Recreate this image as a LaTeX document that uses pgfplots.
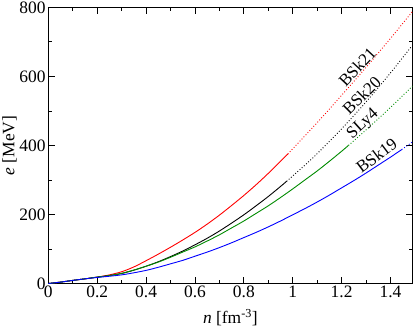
\documentclass[border=0pt]{standalone}
\usepackage{fontspec}
\setmainfont{Liberation Serif}
\usepackage{pgfplots}
\pgfplotsset{compat=1.18}
\definecolor{xgreen}{RGB}{0,139,0}
\begin{document}
\begin{tikzpicture}
\fontsize{17}{19}\selectfont
\begin{axis}[
  scale only axis,
  width=364.2bp, height=276.2bp,
  xmin=0, xmax=1.49, ymin=0, ymax=800,
  xtick={0,0.2,...,1.4}, ytick={0,200,...,800},
  minor x tick num=1, minor y tick num=1,
  tick align=inside, tick pos=both,
  major tick length=6.5bp, minor tick length=3.5bp,
  axis line style={line width=0.8pt},
  every tick/.style={black, line width=0.7pt},
  /pgf/number format/assume math mode=true,
  ticklabel style={font=\fontsize{17.5}{19}\selectfont},
  xticklabel style={inner sep=2bp},
  yticklabel style={inner sep=2.5bp},
  every axis y label/.style={at={(axis description cs:-0.1065,0.5)},rotate=90,anchor=center,inner sep=0pt},
  every axis x label/.style={at={(axis description cs:0.5,-0.1445)},anchor=base,inner sep=0pt},
  xlabel={\textit{n} [fm\textsuperscript{-3}]},
  ylabel={\textit{e} [MeV]},
  label style={font=\fontsize{17.5}{19}\selectfont},
  clip=true,
]
% BSk21 (red)
\addplot[red, line width=0.9pt, smooth] coordinates {
(0,0)(0.05,4)(0.1,9)(0.15,13.5)(0.2,18.5)(0.25,25)(0.3,34)(0.35,48)(0.4,66)(0.45,85)
(0.5,105)(0.55,126)(0.6,148)(0.65,172)(0.7,198)(0.75,226)(0.8,255)(0.85,286)
(0.9,319)(0.95,354)(0.98,375)};
\addplot[red, line width=0.9pt, dotted, smooth] coordinates {
(0.98,375)(1.1,466)(1.2,545)(1.3,626)(1.4,710)(1.49,788)};
% BSk20 (black)
\addplot[black, line width=0.9pt, smooth] coordinates {
(0,0)(0.05,4)(0.1,9)(0.15,13.5)(0.2,18.5)(0.25,23)(0.3,29)(0.35,38.5)(0.4,50)(0.45,63)
(0.5,78)(0.55,94)(0.6,112)(0.65,131)(0.7,152)(0.75,175)(0.8,199)(0.85,225)
(0.9,252)(0.95,281)(0.975,296)};
\addplot[black, line width=0.9pt, dotted, smooth] coordinates {
(0.975,296)(1.05,343)(1.1,376)(1.2,448)(1.3,526)(1.4,610)(1.485,686)};
% SLy4 (green)
\addplot[xgreen, line width=0.9pt, smooth] coordinates {
(0,0)(0.05,4)(0.1,9)(0.15,13.5)(0.2,18.5)(0.25,23)(0.3,29.5)(0.35,39)(0.4,50)(0.45,62)
(0.5,76)(0.55,91)(0.6,106)(0.65,123)(0.7,141)(0.75,161)(0.8,181)(0.85,203)
(0.9,225)(0.95,249)(1.0,274)(1.05,300)(1.1,326)(1.15,354)(1.2,383)(1.228,400)};
\addplot[xgreen, line width=0.9pt, dotted, smooth] coordinates {
(1.228,400)(1.3,445)(1.4,510)(1.49,572)};
% BSk19 (blue)
\addplot[blue, line width=0.9pt, smooth] coordinates {
(0,0)(0.05,4)(0.1,9)(0.15,13.5)(0.2,17.5)(0.25,21)(0.3,25)(0.35,31)(0.4,38)(0.45,47)
(0.5,57)(0.55,67)(0.6,79)(0.65,91)(0.7,104)(0.75,118)(0.8,133)(0.85,148)
(0.9,164)(0.95,181)(1.0,199)(1.05,217)(1.1,236)(1.15,256)(1.2,277)(1.25,298)
(1.3,320)(1.35,343)(1.4,366)(1.446,388)};
\addplot[blue, line width=0.9pt, dotted, smooth] coordinates {
(1.446,388)(1.494,412)};
\node[rotate=47, inner sep=0pt] at (axis cs:1.264,627) {BSk21};
\node[rotate=45, inner sep=0pt] at (axis cs:1.282,545) {BSk20};
\node[rotate=42, inner sep=0pt] at (axis cs:1.288,461) {SLy4};
\node[rotate=37, inner sep=0pt] at (axis cs:1.343,371) {BSk19};
\coordinate (SW) at (rel axis cs:0,0);
\coordinate (NE) at (rel axis cs:1,1);
\end{axis}
\pgfresetboundingbox
\path[use as bounding box] ([xshift=-48.3bp,yshift=-43.5bp]SW) rectangle ([xshift=3.5bp,yshift=7.3bp]NE);
\end{tikzpicture}
\end{document}
